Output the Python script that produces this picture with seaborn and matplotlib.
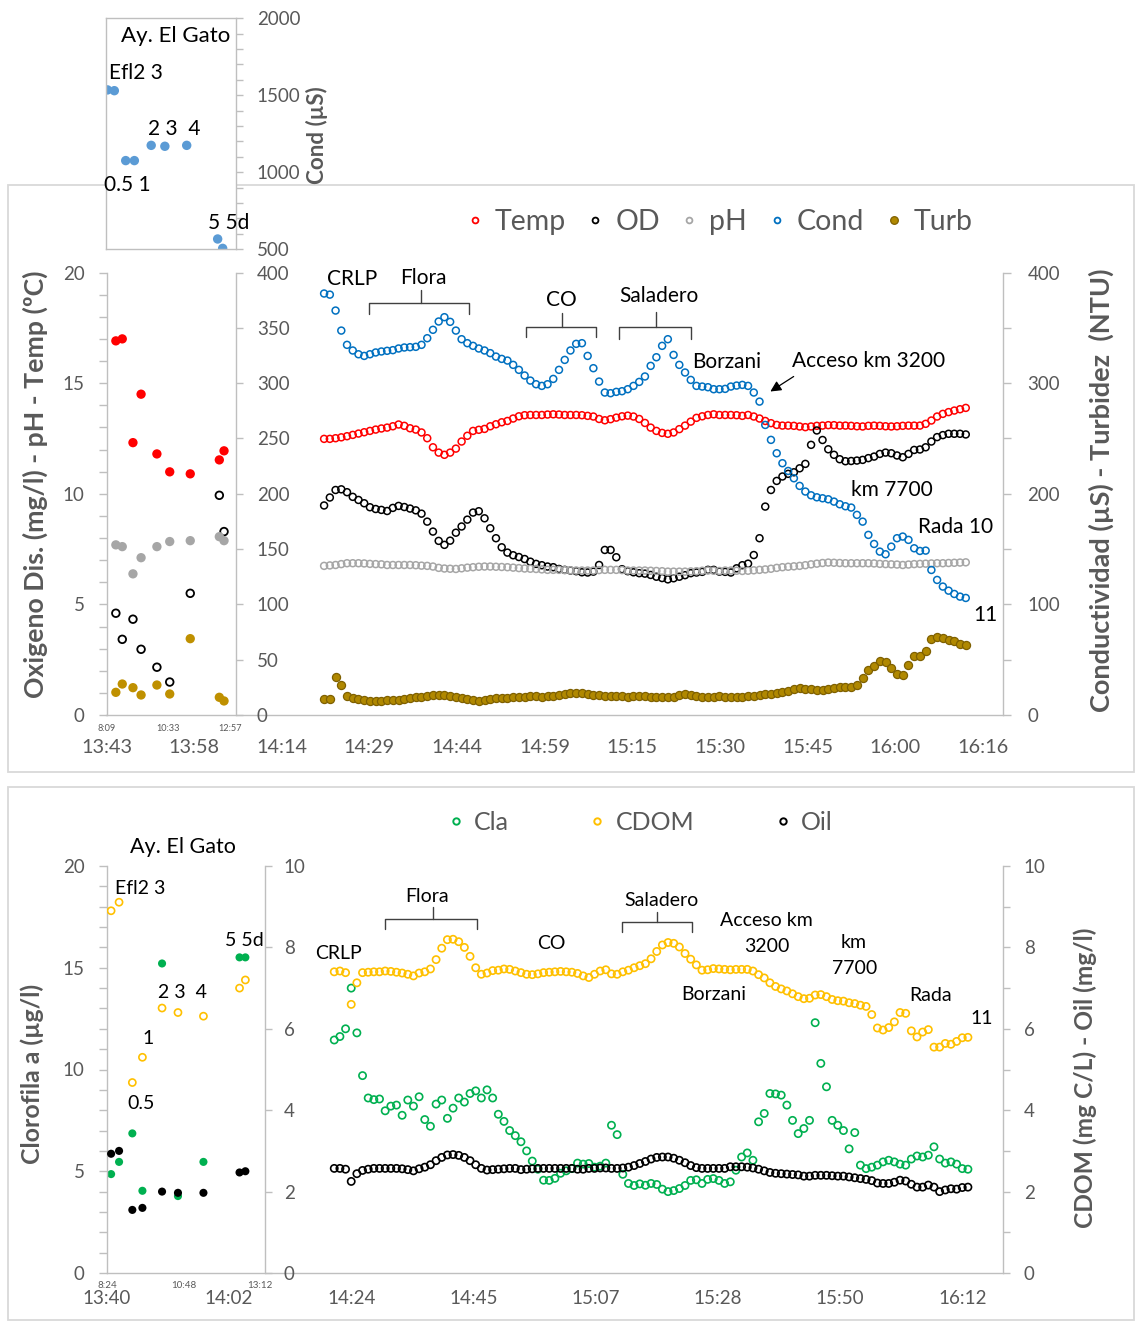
import numpy as np
import matplotlib
matplotlib.use("Agg")
import matplotlib.pyplot as plt
from matplotlib.lines import Line2D
from matplotlib.patches import Rectangle
from matplotlib.ticker import FixedLocator, MultipleLocator
import seaborn as sns

sns.set_style("white")
plt.rcParams["font.family"] = ["Lato", "DejaVu Sans"]

# ---------------- data ----------------
# Ay. El Gato stations (time in minutes after midnight)
station_time = [511, 526, 551, 570, 607, 637, 685, 753, 764]
st_cond = [1535, 1530, 1076, 1076, 1175, 1169, 1175, 567, 506]
st_temp = [16.91, 17.00, 12.31, 14.50, 11.80, 10.99, 10.90, 11.53, 11.94]
st_od = [4.60, 3.42, 4.33, 2.97, 2.16, 1.49, 5.50, 9.93, 8.29]
st_ph = [7.69, 7.61, 6.38, 7.11, 7.61, 7.84, 7.88, 8.06, 7.88]
st_turb = [20.5, 28.0, 24.7, 18.1, 27.1, 19.0, 69.0, 16.0, 12.7]
st_cla = [4.86, 5.46, 6.86, 4.04, 15.21, 3.78, 5.46, 15.51, 15.51]
st_cdom = [8.90, 9.11, 4.68, 5.30, 6.51, 6.40, 6.31, 7.00, 7.20]
st_oil = [2.93, 3.00, 1.55, 1.60, 2.00, 1.97, 1.97, 2.47, 2.50]

# transect, one reading per minute from 14:21 to 16:13
t_tr = np.arange(861, 974)
temp_tr = [
    12.48, 12.48, 12.51, 12.55, 12.60, 12.66, 12.72, 12.78, 12.84, 12.90,
    12.95, 12.99, 13.05, 13.13, 13.07, 12.96, 12.90, 12.77, 12.51, 12.10,
    11.86, 11.76, 11.86, 12.04, 12.36, 12.62, 12.84, 12.89, 12.93, 13.05,
    13.14, 13.23, 13.29, 13.40, 13.50, 13.55, 13.56, 13.56, 13.56, 13.58,
    13.59, 13.58, 13.56, 13.56, 13.56, 13.55, 13.52, 13.49, 13.38, 13.32,
    13.37, 13.44, 13.50, 13.53, 13.49, 13.38, 13.20, 12.99, 12.84, 12.75,
    12.71, 12.77, 12.92, 13.08, 13.26, 13.43, 13.50, 13.56, 13.59, 13.56,
    13.56, 13.56, 13.55, 13.52, 13.56, 13.49, 13.40, 13.29, 13.19, 13.11,
    13.08, 13.08, 13.07, 13.04, 13.01, 13.04, 13.07, 13.08, 13.10, 13.10,
    13.08, 13.08, 13.07, 13.05, 13.04, 13.07, 13.08, 13.07, 13.05, 13.04,
    13.05, 13.07, 13.08, 13.08, 13.08, 13.16, 13.31, 13.49, 13.61, 13.69,
    13.76, 13.82, 13.88]
od_tr = [
    9.47, 9.83, 10.17, 10.20, 10.07, 9.86, 9.72, 9.57, 9.39, 9.31,
    9.27, 9.22, 9.36, 9.45, 9.40, 9.33, 9.25, 9.10, 8.74, 8.29,
    7.87, 7.69, 7.88, 8.24, 8.52, 8.83, 9.15, 9.21, 8.89, 8.44,
    7.99, 7.58, 7.34, 7.22, 7.14, 7.05, 6.93, 6.83, 6.77, 6.71,
    6.68, 6.60, 6.56, 6.53, 6.50, 6.45, 6.44, 6.48, 6.78, 7.46,
    7.46, 7.13, 6.59, 6.50, 6.45, 6.41, 6.39, 6.33, 6.25, 6.19,
    6.13, 6.18, 6.25, 6.32, 6.41, 6.44, 6.47, 6.56, 6.56, 6.48,
    6.47, 6.44, 6.63, 6.77, 6.84, 7.23, 7.99, 9.42, 10.17, 10.58,
    10.78, 10.90, 10.97, 11.15, 11.35, 12.21, 12.86, 12.43, 12.01, 11.76,
    11.56, 11.47, 11.48, 11.50, 11.53, 11.61, 11.68, 11.80, 11.86, 11.83,
    11.73, 11.65, 11.80, 11.98, 12.00, 12.10, 12.36, 12.56, 12.65, 12.71,
    12.71, 12.71, 12.68]
ph_tr = [
    6.74, 6.76, 6.78, 6.82, 6.86, 6.86, 6.86, 6.85, 6.83, 6.82,
    6.81, 6.78, 6.78, 6.78, 6.78, 6.78, 6.77, 6.75, 6.74, 6.71,
    6.65, 6.62, 6.61, 6.60, 6.63, 6.66, 6.68, 6.70, 6.71, 6.71,
    6.70, 6.69, 6.68, 6.66, 6.64, 6.62, 6.61, 6.60, 6.58, 6.56,
    6.56, 6.56, 6.55, 6.54, 6.53, 6.53, 6.53, 6.53, 6.55, 6.56,
    6.56, 6.56, 6.55, 6.53, 6.53, 6.53, 6.53, 6.52, 6.51, 6.50,
    6.48, 6.48, 6.48, 6.48, 6.49, 6.50, 6.52, 6.53, 6.52, 6.51,
    6.53, 6.53, 6.52, 6.51, 6.52, 6.54, 6.56, 6.58, 6.61, 6.65,
    6.68, 6.70, 6.72, 6.74, 6.77, 6.81, 6.84, 6.87, 6.89, 6.88,
    6.87, 6.86, 6.86, 6.86, 6.86, 6.86, 6.85, 6.83, 6.82, 6.81,
    6.80, 6.78, 6.80, 6.82, 6.83, 6.84, 6.85, 6.86, 6.86, 6.87,
    6.88, 6.89, 6.90]
cond_tr = [
    381, 380, 365.6, 347.5, 334.6, 329.5, 326.1, 324.6, 326.1, 327.7,
    328.6, 329.2, 329.8, 331.3, 332.2, 332.5, 332.8, 334.6, 340.6, 348.2,
    355.7, 359.6, 355.4, 347.5, 339.7, 336.1, 333.7, 331.3, 329.5, 327.1,
    324.0, 321.9, 320.4, 316.5, 312.0, 306.9, 302.3, 299.0, 297.5, 299.0,
    303.8, 312.0, 321.0, 329.5, 335.5, 336.1, 324.6, 313.5, 301.4, 291.5,
    290.9, 292.1, 292.7, 294.5, 297.5, 301.1, 306.0, 315.6, 323.4, 333.7,
    339.7, 325.5, 316.5, 309.6, 302.9, 297.5, 296.9, 296.3, 294.5, 294.5,
    294.8, 296.9, 297.8, 298.4, 297.5, 291.5, 283.3, 262.2, 248.7, 236.6,
    227.6, 220.6, 214.0, 207.1, 202.0, 198.6, 196.8, 195.9, 195.0, 192.9,
    190.5, 188.7, 187.5, 180.9, 174.8, 162.8, 154.6, 147.7, 145.3, 152.2,
    159.8, 161.3, 158.3, 150.7, 148.3, 148.6, 131.1, 122.1, 116.1, 112.4,
    109.4, 107.0, 105.8]
turb_tr = [
    14.2, 14.2, 34.5, 27.0, 17.0, 15.1, 14.2, 13.6, 13.0, 13.0,
    13.0, 13.3, 13.6, 13.6, 14.2, 15.1, 16.0, 16.6, 17.2, 18.1,
    18.1, 18.1, 17.5, 16.6, 15.4, 14.2, 13.3, 13.0, 13.6, 14.2,
    15.1, 15.1, 15.7, 16.0, 16.6, 16.6, 17.2, 17.2, 16.6, 17.2,
    17.2, 18.1, 19.0, 20.2, 20.2, 19.6, 18.7, 18.1, 17.8, 17.5,
    17.2, 17.2, 16.9, 16.6, 17.2, 17.2, 16.9, 16.6, 16.3, 16.0,
    16.0, 16.6, 18.1, 18.7, 17.8, 17.2, 16.6, 16.6, 16.6, 17.2,
    16.6, 16.6, 16.6, 16.6, 17.0, 17.5, 18.1, 18.7, 19.3, 20.2,
    21.1, 22.0, 23.2, 24.1, 23.8, 23.2, 22.6, 22.9, 23.5, 24.1,
    25.0, 25.6, 25.3, 27.5, 33.5, 40.5, 44.5, 48.5, 47.5, 42.5,
    37.5, 36.0, 45.0, 53.0, 53.5, 58.0, 68.5, 70.5, 69.5, 68.0,
    66.5, 64.5, 63.3]
cla_tr = [
    11.45, 11.62, 12.00, 14.00, 11.80, 9.70, 8.60, 8.52, 8.55, 7.97,
    8.20, 8.25, 7.75, 8.50, 8.20, 8.66, 7.54, 7.21, 8.30, 8.50,
    7.60, 8.10, 8.60, 8.40, 8.82, 8.95, 8.60, 9.00, 8.60, 7.80,
    7.45, 7.00, 6.75, 6.45, 6.00, 5.50, 5.10, 4.56, 4.55, 4.65,
    4.90, 5.02, 5.13, 5.40, 5.35, 5.38, 5.20, 5.25, 5.40, 7.26,
    6.80, 4.85, 4.40, 4.30, 4.38, 4.31, 4.40, 4.35, 4.12, 4.00,
    4.05, 4.15, 4.30, 4.55, 4.58, 4.40, 4.60, 4.64, 4.55, 4.40,
    4.48, 5.05, 5.70, 5.90, 5.54, 7.43, 7.84, 8.82, 8.80, 8.74,
    8.25, 7.50, 6.85, 7.10, 7.50, 12.30, 10.30, 9.15, 7.50, 7.26,
    7.00, 6.10, 6.90, 5.30, 5.13, 5.20, 5.30, 5.46, 5.54, 5.46,
    5.35, 5.30, 5.60, 5.75, 5.70, 5.79, 6.20, 5.60, 5.40, 5.46,
    5.35, 5.13, 5.10]
cdom_tr = [
    7.40, 7.42, 7.38, 6.60, 7.13, 7.38, 7.39, 7.40, 7.40, 7.42,
    7.41, 7.39, 7.37, 7.34, 7.30, 7.37, 7.40, 7.47, 7.70, 7.98,
    8.19, 8.20, 8.14, 8.00, 7.78, 7.50, 7.34, 7.37, 7.43, 7.44,
    7.47, 7.46, 7.42, 7.38, 7.34, 7.33, 7.35, 7.38, 7.39, 7.40,
    7.41, 7.40, 7.39, 7.36, 7.30, 7.26, 7.34, 7.42, 7.45, 7.35,
    7.34, 7.40, 7.44, 7.50, 7.55, 7.60, 7.72, 7.90, 8.06, 8.12,
    8.10, 8.01, 7.85, 7.71, 7.57, 7.44, 7.45, 7.48, 7.47, 7.46,
    7.45, 7.46, 7.46, 7.46, 7.42, 7.33, 7.25, 7.13, 7.04, 6.98,
    6.93, 6.86, 6.79, 6.74, 6.75, 6.83, 6.84, 6.79, 6.72, 6.69,
    6.68, 6.64, 6.62, 6.58, 6.55, 6.35, 6.02, 5.97, 6.03, 6.17,
    6.40, 6.38, 5.95, 5.80, 5.92, 5.98, 5.55, 5.55, 5.64, 5.62,
    5.69, 5.78, 5.79]
oil_tr = [
    2.57, 2.57, 2.55, 2.25, 2.44, 2.52, 2.55, 2.57, 2.57, 2.57,
    2.57, 2.57, 2.56, 2.54, 2.51, 2.56, 2.60, 2.66, 2.76, 2.84,
    2.90, 2.91, 2.89, 2.84, 2.76, 2.66, 2.57, 2.53, 2.54, 2.55,
    2.56, 2.57, 2.57, 2.54, 2.55, 2.56, 2.57, 2.57, 2.57, 2.57,
    2.57, 2.57, 2.57, 2.55, 2.55, 2.57, 2.57, 2.58, 2.58, 2.57,
    2.57, 2.58, 2.60, 2.64, 2.69, 2.74, 2.80, 2.84, 2.85, 2.85,
    2.82, 2.77, 2.71, 2.64, 2.59, 2.57, 2.57, 2.57, 2.57, 2.57,
    2.61, 2.61, 2.61, 2.60, 2.58, 2.55, 2.51, 2.47, 2.45, 2.44,
    2.43, 2.42, 2.41, 2.38, 2.38, 2.40, 2.40, 2.40, 2.39, 2.38,
    2.38, 2.36, 2.34, 2.32, 2.30, 2.27, 2.21, 2.20, 2.20, 2.23,
    2.28, 2.26, 2.18, 2.11, 2.11, 2.16, 2.11, 2.00, 2.04, 2.07,
    2.06, 2.10, 2.11]

top_xlabels = ["13:43", "13:58", "14:14", "14:29", "14:44", "14:59",
               "15:15", "15:30", "15:45", "16:00", "16:16"]
bot_xlabels = ["13:40", "14:02", "14:24", "14:45", "15:07", "15:28", "15:50", "16:12"]
top_small_labels = ["8:09", "10:33", "12:57"]
bot_small_labels = ["8:24", "10:48", "13:12"]

# ---------------- figure ----------------
W, H = 1135, 1321
fig = plt.figure(figsize=(W / 100, H / 100), dpi=100)
fig.patch.set_facecolor("white")
AXC = "#BFBFBF"
TXT = "#595959"
FR = "#D9D9D9"


def fx(x):
    return x / W


def fy(y):
    return 1 - y / H


def rect(l, t, r, b):
    return [fx(l), fy(b), (r - l) / W, (b - t) / H]


def clean(ax, left=False, right=False, top=False, bottom=False):
    for s, v in dict(left=left, right=right, top=top, bottom=bottom).items():
        ax.spines[s].set_visible(v)
        ax.spines[s].set_color(AXC)
        ax.spines[s].set_linewidth(1.0)
    ax.patch.set_alpha(0)
    ax.set_xlabel("")
    ax.set_ylabel("")


def ytick_style(ax, size=13.5, pad=10, length=6):
    ax.tick_params(axis="y", which="both", direction="out", length=length, width=1,
                   color=AXC, labelcolor=TXT, labelsize=size, pad=pad)


for (l, t, r, b) in [(8, 185, 1134, 772), (8, 787, 1134, 1320)]:
    fig.add_artist(Rectangle((fx(l), fy(b)), (r - l) / W, (b - t) / H,
                             transform=fig.transFigure, fill=False,
                             edgecolor=FR, linewidth=1.3, zorder=-5))


def open_pts(ax, x, y, c, s=25, lw=1.1):
    sns.scatterplot(x=x, y=y, ax=ax, s=s, color=c, facecolor="none",
                    edgecolor=c, linewidth=lw)


def fill_pts(ax, x, y, c, s=45, ec="none", lw=0):
    sns.scatterplot(x=x, y=y, ax=ax, s=s, color=c, edgecolor=ec, linewidth=lw)


# ===== top main chart =====
ax_t = fig.add_axes(rect(106.4, 272.5, 1003, 715))
ax_t2 = ax_t.twinx()
open_pts(ax_t, t_tr, temp_tr, "#FF0000")
open_pts(ax_t, t_tr, od_tr, "#000000")
open_pts(ax_t, t_tr, ph_tr, "#A6A6A6")
open_pts(ax_t2, t_tr, cond_tr, "#0070C0")
fill_pts(ax_t2, t_tr, turb_tr, "#B08800", s=34, ec="#7F6000", lw=0.9)
ax_t.set_xlim(823, 979.5)
ax_t.set_ylim(0, 20)
ax_t2.set_ylim(0, 400)
clean(ax_t, bottom=True)
clean(ax_t2, right=True)
ax_t.set_xticks([823 + 15.3 * k for k in range(11)])
ax_t.set_xticklabels(top_xlabels)
ax_t.tick_params(axis="x", direction="out", length=7, width=1, color=AXC,
                 labelcolor=TXT, labelsize=14.3, pad=10)
ax_t.tick_params(axis="y", left=False, labelleft=False, right=False, labelright=False)
ax_t2.set_yticks([0, 100, 200, 300, 400])
ax_t2.yaxis.set_minor_locator(MultipleLocator(50))
ytick_style(ax_t2, pad=11.5)

# ===== top left panel =====
ax_lp = fig.add_axes(rect(106.7, 272.5, 236, 715))
ax_lp2 = ax_lp.twinx()
fill_pts(ax_lp, station_time, st_temp, "#FF0000")
open_pts(ax_lp, station_time, st_od, "#000000", s=30, lw=1.3)
fill_pts(ax_lp, station_time, st_ph, "#A6A6A6")
fill_pts(ax_lp2, station_time, st_turb, "#BF9000")
ax_lp.set_xlim(489.6, 792)
ax_lp.set_ylim(0, 20)
ax_lp2.set_ylim(0, 400)
clean(ax_lp, left=True)
clean(ax_lp2, right=True)
ax_lp.set_yticks([0, 5, 10, 15, 20])
ax_lp.yaxis.set_minor_locator(MultipleLocator(1))
ytick_style(ax_lp)
ax_lp.set_xticks([489.6, 633.6, 777.6])
ax_lp.set_xticklabels(top_small_labels)
ax_lp.tick_params(axis="x", length=0, labelsize=6.6, labelcolor=TXT, pad=6.8)
ax_lp2.set_yticks(list(range(0, 401, 50)))
ytick_style(ax_lp2, pad=10, length=5)

# ===== conductivity inset =====
ax_c = fig.add_axes(rect(106, 18.3, 236, 249.3))
fill_pts(ax_c, station_time, st_cond, "#5B9BD5", s=46)
ax_c.set_xlim(507.7, 793.3)
ax_c.set_ylim(500, 2000)
ax_c.set_facecolor("white")
for s in ["left", "right", "top", "bottom"]:
    ax_c.spines[s].set_color(AXC)
    ax_c.spines[s].set_linewidth(1.0)
ax_c.set_xticks([])
ax_c.set_xlabel("")
ax_c.set_ylabel("")
ax_c.yaxis.tick_right()
ax_c.set_yticks([500, 1000, 1500, 2000])
ax_c.yaxis.set_minor_locator(MultipleLocator(100))
ytick_style(ax_c, pad=10, length=5)

# ===== bottom main chart =====
ax_b = fig.add_axes(rect(106.8, 866, 1003, 1273))
ax_b2 = ax_b.twinx()
open_pts(ax_b, t_tr, cla_tr, "#00B050", s=27, lw=1.2)
open_pts(ax_b2, t_tr, cdom_tr, "#FFC000", s=27, lw=1.2)
open_pts(ax_b2, t_tr, oil_tr, "#000000", s=27, lw=1.2)
ax_b.set_xlim(820.8, 979.2)
ax_b.set_ylim(0, 20)
ax_b2.set_ylim(0, 10)
clean(ax_b, bottom=True)
clean(ax_b2, right=True)
ax_b.set_xticks([820.8 + 21.6 * k for k in range(8)])
ax_b.set_xticklabels(bot_xlabels)
ax_b.xaxis.set_minor_locator(FixedLocator([820.8 + 4.32 * k for k in range(37)]))
ax_b.tick_params(axis="x", which="both", direction="out", length=4, width=1,
                 color=AXC, labelcolor=TXT, labelsize=13.5, pad=8.5)
ax_b.tick_params(axis="y", left=False, labelleft=False, right=False, labelright=False)
ax_b2.set_yticks([0, 2, 4, 6, 8, 10])
ax_b2.yaxis.set_minor_locator(MultipleLocator(1))
ytick_style(ax_b2, pad=10, length=5)

# ===== bottom left panel =====
ax_bl = fig.add_axes(rect(106.7, 866, 265, 1273))
ax_bl2 = ax_bl.twinx()
fill_pts(ax_bl, station_time, st_cla, "#00B050", s=34)
open_pts(ax_bl2, station_time, st_cdom, "#FFC000", s=26, lw=1.2)
fill_pts(ax_bl2, station_time, st_oil, "#000000", s=34)
ax_bl.set_xlim(502.7, 801)
ax_bl.set_ylim(0, 20)
ax_bl2.set_ylim(0, 10)
clean(ax_bl, left=True)
clean(ax_bl2, right=True)
ax_bl.set_yticks([0, 5, 10, 15, 20])
ax_bl.yaxis.set_minor_locator(MultipleLocator(1))
ytick_style(ax_bl)
ax_bl.set_xticks([504, 648, 792])
ax_bl.set_xticklabels(bot_small_labels)
ax_bl.tick_params(axis="x", length=0, labelsize=7, labelcolor=TXT, pad=5.4)
ax_bl2.set_yticks([0, 2, 4, 6, 8, 10])
ytick_style(ax_bl2, pad=8.5, length=5)

# ===== axis titles =====
renderer = fig.canvas.get_renderer()


def vtitle(x, y, s, target):
    t = fig.text(fx(x), fy(y), s, rotation=90, ha="center", va="center",
                 color=TXT, fontweight="bold", fontsize=16)
    h = t.get_window_extent(renderer).height
    t.set_fontsize(16 * target / h)
    return t


vtitle(35, 484, "Oxigeno Dis. (mg/l) - pH - Temp (ºC)", 427)
vtitle(1101, 490, "Conductividad (µS) - Turbidez  (NTU)", 446)
vtitle(317, 135, "Cond (µS)", 98)
vtitle(32, 1074, "Clorofila a (µg/l)", 180)
vtitle(1085, 1078, "CDOM (mg C/L) - Oil (mg/l)", 300)

# ===== legends =====
top_handles = [
    Line2D([], [], marker="o", ls="none", ms=4.2, mfc="none", mec="#FF0000", mew=1.3),
    Line2D([], [], marker="o", ls="none", ms=4.2, mfc="none", mec="#000000", mew=1.3),
    Line2D([], [], marker="o", ls="none", ms=4.2, mfc="none", mec="#A6A6A6", mew=1.3),
    Line2D([], [], marker="o", ls="none", ms=4.2, mfc="none", mec="#0070C0", mew=1.3),
    Line2D([], [], marker="o", ls="none", ms=5.5, mfc="#B08800", mec="#7F6000", mew=0.9),
]
fig.legend(top_handles, ["Temp", "OD", "pH", "Cond", "Turb"], loc="center",
           bbox_to_anchor=(fx(720), fy(222)), ncol=5, frameon=False, fontsize=20.5,
           handlelength=0.5, handletextpad=0.45, columnspacing=0.79,
           borderpad=0, borderaxespad=0, labelcolor=TXT)
bot_handles = [
    Line2D([], [], marker="o", ls="none", ms=4.6, mfc="none", mec="#00B050", mew=1.4),
    Line2D([], [], marker="o", ls="none", ms=4.6, mfc="none", mec="#FFC000", mew=1.4),
    Line2D([], [], marker="o", ls="none", ms=4.6, mfc="none", mec="#000000", mew=1.4),
]
fig.legend(bot_handles, ["Cla", "CDOM", "Oil"], loc="center",
           bbox_to_anchor=(fx(641), fy(822)), ncol=3, frameon=False, fontsize=18,
           handlelength=0.5, handletextpad=0.47, columnspacing=3.3,
           borderpad=0, borderaxespad=0, labelcolor=TXT)

# ===== annotations =====


def label(s, x, y, size=15, color="black"):
    fig.text(fx(x), fy(y + 2), s, ha="center", va="center", fontsize=size, color=color)


def bracket(x0, x1, xc, y_end, y_bar, y_tip):
    fig.add_artist(Line2D([fx(x0), fx(x0), fx(x1), fx(x1)],
                          [fy(y_end), fy(y_bar), fy(y_bar), fy(y_end)],
                          transform=fig.transFigure, color="#404040", lw=1.0))
    fig.add_artist(Line2D([fx(xc), fx(xc)], [fy(y_bar), fy(y_tip)],
                          transform=fig.transFigure, color="#404040", lw=1.0))


for s, x, y in [("CRLP", 351.7, 277), ("Flora", 423.3, 276), ("CO", 561.7, 298.5),
                ("Saladero", 659, 294), ("Borzani", 726.7, 360),
                ("Acceso km 3200", 869, 359), ("km 7700", 892, 488),
                ("Rada 10", 955.6, 525), ("11", 985, 613)]:
    label(s, x, y, 15)
bracket(369, 469.3, 420.7, 314, 303.3, 290)
bracket(526, 595.7, 561.7, 337, 326.7, 313.3)
bracket(619, 690.7, 656, 339, 327, 311.7)
fig.add_artist(matplotlib.patches.FancyArrowPatch(
    (fx(796), fy(375)), (fx(768), fy(393)), transform=fig.transFigure,
    arrowstyle="-|>", mutation_scale=16, color="black", lw=0.9))

for s, x, y in [("Flora", 426.7, 895), ("Saladero", 661.7, 898), ("CRLP", 338.3, 951.5),
                ("CO", 551.3, 941.3), ("Borzani", 713.3, 992), ("Acceso km", 766.7, 918.8),
                ("3200", 766.7, 944), ("km", 854, 940), ("7700", 854.3, 966.3),
                ("Rada", 931, 993.7), ("11", 981.7, 1016.7)]:
    label(s, x, y, 14)
bracket(385, 477.3, 432.7, 929.3, 919, 906.7)
bracket(622.3, 691.7, 657.3, 931.7, 921.7, 911.7)

label("Ay. El Gato", 175.3, 34.3, 16)
for s, x, y in [("Efl2 3", 135.8, 70.8), ("2 3  4", 174.2, 126.7),
                ("0.5 1", 127, 183.3), ("5 5d", 228.3, 221)]:
    label(s, x, y, 15)
label("Ay. El Gato", 183, 845, 15.5)
for s, x, y in [("Efl2 3", 140.3, 886), ("5 5d", 244.8, 939), ("2 3  4", 182, 991),
                ("1", 148, 1036.8), ("0.5", 141.1, 1101.7)]:
    label(s, x, y, 14)

fig.savefig("out.png", dpi=100)
